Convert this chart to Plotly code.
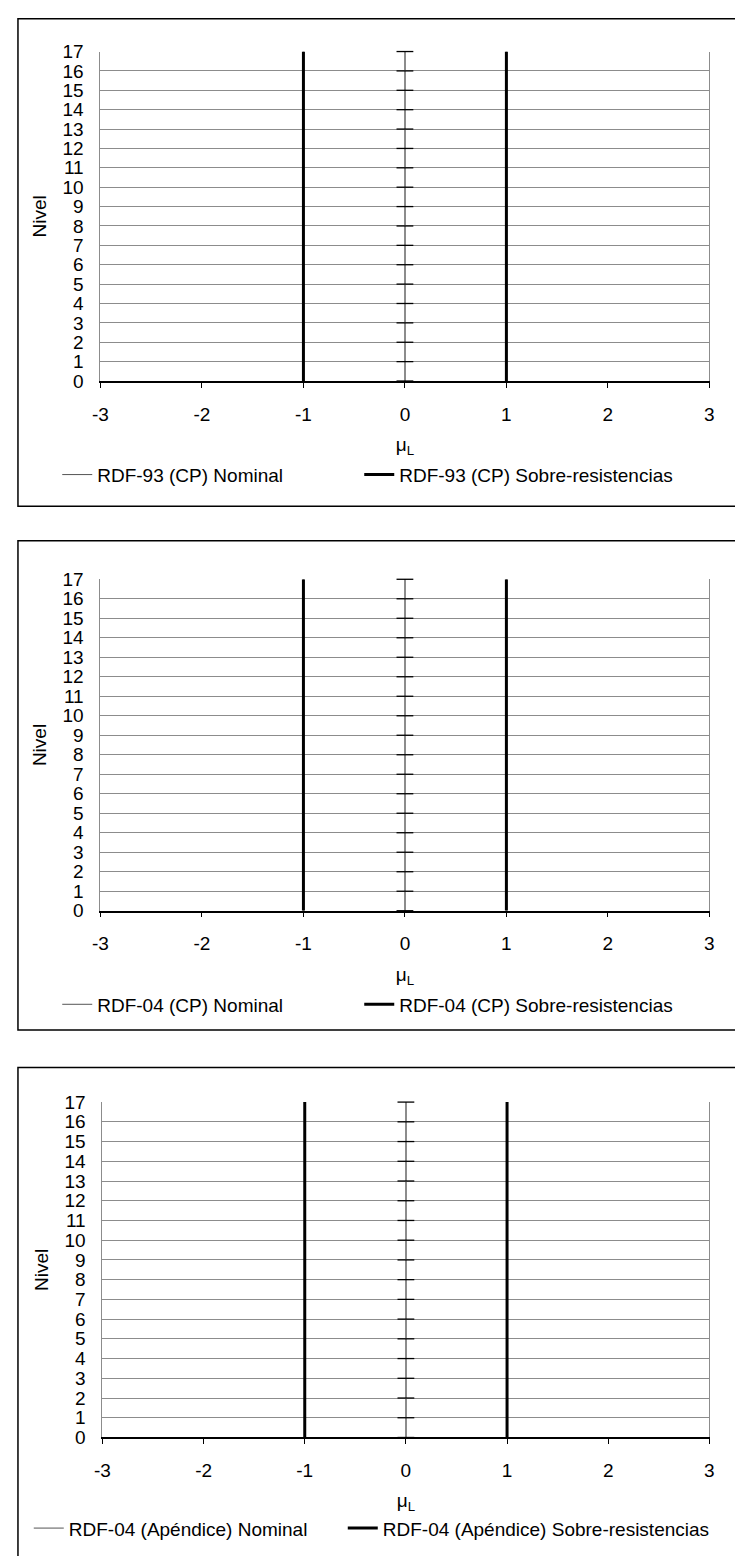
import plotly.graph_objects as go

# ---------------- data ----------------
niveles = [0, 1, 2, 3, 4, 5, 6, 7, 8, 9, 10, 11, 12, 13, 14, 15, 16, 17]
x_ticks = [-3, -2, -1, 0, 1, 2, 3]

# RDF-93 (CP)
rdf93_nominal_min = [-1, -1, -1, -1, -1, -1, -1, -1, -1, -1, -1, -1, -1, -1, -1, -1, -1, -1]
rdf93_nominal_max = [1, 1, 1, 1, 1, 1, 1, 1, 1, 1, 1, 1, 1, 1, 1, 1, 1, 1]
rdf93_sobre_min = [-1, -1, -1, -1, -1, -1, -1, -1, -1, -1, -1, -1, -1, -1, -1, -1, -1, -1]
rdf93_sobre_max = [1, 1, 1, 1, 1, 1, 1, 1, 1, 1, 1, 1, 1, 1, 1, 1, 1, 1]

# RDF-04 (CP)
rdf04cp_nominal_min = [-1, -1, -1, -1, -1, -1, -1, -1, -1, -1, -1, -1, -1, -1, -1, -1, -1, -1]
rdf04cp_nominal_max = [1, 1, 1, 1, 1, 1, 1, 1, 1, 1, 1, 1, 1, 1, 1, 1, 1, 1]
rdf04cp_sobre_min = [-1, -1, -1, -1, -1, -1, -1, -1, -1, -1, -1, -1, -1, -1, -1, -1, -1, -1]
rdf04cp_sobre_max = [1, 1, 1, 1, 1, 1, 1, 1, 1, 1, 1, 1, 1, 1, 1, 1, 1, 1]

# RDF-04 (Apéndice)
rdf04ap_nominal_min = [-1, -1, -1, -1, -1, -1, -1, -1, -1, -1, -1, -1, -1, -1, -1, -1, -1, -1]
rdf04ap_nominal_max = [1, 1, 1, 1, 1, 1, 1, 1, 1, 1, 1, 1, 1, 1, 1, 1, 1, 1]
rdf04ap_sobre_min = [-1, -1, -1, -1, -1, -1, -1, -1, -1, -1, -1, -1, -1, -1, -1, -1, -1, -1]
rdf04ap_sobre_max = [1, 1, 1, 1, 1, 1, 1, 1, 1, 1, 1, 1, 1, 1, 1, 1, 1, 1]

axis_cross = 0  # value axis crosses the category axis at mu = 0

panel_names = [
    ("RDF-93 (CP) Nominal", "RDF-93 (CP) Sobre-resistencias"),
    ("RDF-04 (CP) Nominal", "RDF-04 (CP) Sobre-resistencias"),
    ("RDF-04 (Apéndice) Nominal", "RDF-04 (Apéndice) Sobre-resistencias"),
]
panel_data = [
    (rdf93_nominal_min, rdf93_nominal_max, rdf93_sobre_min, rdf93_sobre_max),
    (rdf04cp_nominal_min, rdf04cp_nominal_max, rdf04cp_sobre_min, rdf04cp_sobre_max),
    (rdf04ap_nominal_min, rdf04ap_nominal_max, rdf04ap_sobre_min, rdf04ap_sobre_max),
]

# ---------------- layout (page pixels) ----------------
OFF = 8
W, H = 727, 1548
FONT = "Liberation Sans, Arial, sans-serif"
FS = 19
GRID = "#8c8c8c"


def px(x):
    return (x - OFF) / W


def py(y):
    return 1 - (y - OFF) / H


geo = [
    dict(top=6, bottom=503, left=94, right=714, y17=42, y0=376, lg=471,
         lgx=50, lw=(257, 300)),
    dict(top=538, bottom=1034, left=94, right=714, y17=577, y0=913, lg=1008,
         lgx=50, lw=(257, 300)),
    dict(top=1072, bottom=1570, left=96, right=714, y17=1107, y0=1447, lg=1539,
         lgx=21, lw=(269, 335)),
]

fig = go.Figure()
shapes = []
layout = {}

for i, (g, names, data) in enumerate(zip(geo, panel_names, panel_data)):
    sfx = "" if i == 0 else str(i + 1)
    xa, ya = "x" + sfx, "y" + sfx
    lg = "legend" + sfx
    nom_min, nom_max, sob_min, sob_max = data

    fig.add_trace(go.Scatter(
        x=nom_min + [None] + nom_max, y=niveles + [None] + niveles,
        mode="lines", line=dict(color="#555555", width=1),
        name=names[0], xaxis=xa, yaxis=ya, legend=lg, legendwidth=g["lw"][0],
        hoverinfo="skip"))
    fig.add_trace(go.Scatter(
        x=sob_min + [None] + sob_max, y=niveles + [None] + niveles,
        mode="lines", line=dict(color="black", width=3),
        name=names[1], xaxis=xa, yaxis=ya, legend=lg, legendwidth=g["lw"][1],
        hoverinfo="skip"))
    fig.add_trace(go.Scatter(
        x=[axis_cross] * len(niveles), y=niveles, mode="markers",
        marker=dict(symbol="line-ew", size=12, line=dict(color="black", width=1.3)),
        showlegend=False, xaxis=xa, yaxis=ya, hoverinfo="skip", cliponaxis=False))

    layout["xaxis" + sfx] = dict(
        domain=[px(g["left"]), px(g["right"])], anchor=ya, range=[-3, 3],
        tickvals=x_ticks, ticktext=[str(v) for v in x_ticks],
        showgrid=False, showline=True, linecolor="black", linewidth=1.5,
        ticks="outside", ticklen=5, tickcolor="black", tickwidth=1,
        zeroline=True, zerolinecolor=GRID, zerolinewidth=1.5,
        tickfont=dict(family=FONT, size=FS, color="black"),
        ticklabelstandoff=10, fixedrange=True,
        title=dict(text="μ<sub>L</sub>", standoff=14,
                   font=dict(family=FONT, size=FS, color="black")))
    layout["yaxis" + sfx] = dict(
        domain=[py(g["y0"]), py(g["y17"])], anchor=xa, range=[0, 17],
        tickvals=niveles, ticktext=[str(v) for v in niveles],
        showgrid=True, gridcolor=GRID, gridwidth=1,
        showline=True, linecolor=GRID, linewidth=1, mirror=True,
        ticks="", zeroline=False,
        tickfont=dict(family=FONT, size=FS, color="black"),
        ticklabelstandoff=12, fixedrange=True,
        title=dict(text="Nivel", standoff=10,
                   font=dict(family=FONT, size=FS, color="black")))
    layout[lg] = dict(
        orientation="h", x=px(g["lgx"]), xanchor="left", y=py(g["lg"]), yanchor="middle",
        font=dict(family=FONT, size=FS, color="black"),
        bgcolor="rgba(0,0,0,0)", borderwidth=0, itemwidth=30)

    shapes.append(dict(type="rect", xref="paper", yref="paper",
                       x0=px(10), x1=px(760), y0=py(g["bottom"]), y1=min(py(g["top"]), py(OFF + 0.8)),
                       line=dict(color="black", width=1.5), fillcolor="rgba(0,0,0,0)", layer="below"))

fig.update_layout(
    width=W, height=H, margin=dict(l=0, r=0, t=0, b=0, pad=0),
    paper_bgcolor="white", plot_bgcolor="white",
    shapes=shapes, **layout)

fig.write_html("out.html")
